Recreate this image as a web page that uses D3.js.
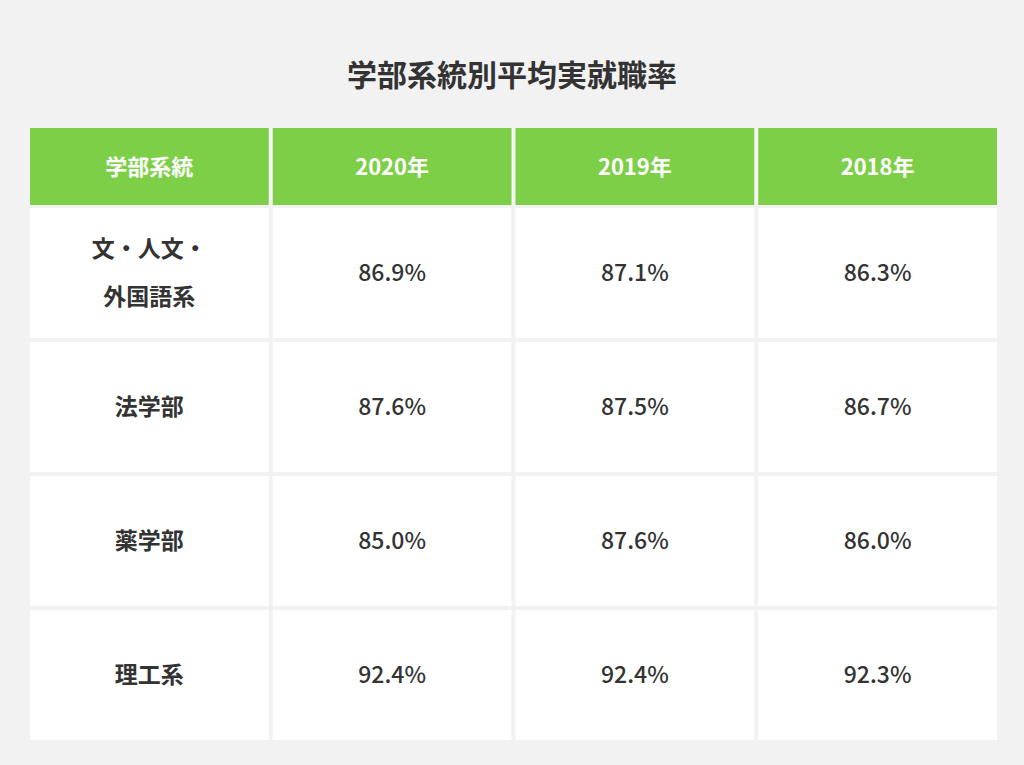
<!DOCTYPE html>
<html><head><meta charset="utf-8">
<script src="https://cdn.jsdelivr.net/npm/d3@7"></script>
<style>
  body { margin:0; background:#f2f2f2; }
  svg text { font-family:"Noto Sans CJK JP","Noto Sans",sans-serif; }
</style></head>
<body>
<svg id="chart" width="1024" height="765"></svg>
<script>
// ─── Data ───
const title   = "学部系統別平均実就職率";
const headers = ["学部系統", "2020年", "2019年", "2018年"];
const faculties = [["文・人文・", "外国語系"], ["法学部"], ["薬学部"], ["理工系"]];
const rates2020 = ["86.9%", "87.6%", "85.0%", "92.4%"];
const rates2019 = ["87.1%", "87.5%", "87.6%", "92.4%"];
const rates2018 = ["86.3%", "86.7%", "86.0%", "92.3%"];

const svg = d3.select("#chart");
const W = 1024;

svg.append("rect").attr("width", W).attr("height", 765).attr("fill", "#f2f2f2");

svg.append("text")
    .attr("x", W / 2).attr("y", 86)
    .attr("text-anchor", "middle")
    .attr("font-size", 30).attr("font-weight", 700).attr("fill", "#333")
    .text(title);

// Column and row bands
const x = d3.scaleBand().domain(d3.range(4)).range([30, 997]).paddingInner(0.0165);
const y = d3.scaleBand().domain(d3.range(4)).range([208, 740]).paddingInner(0.03);
const headTop = 128, headBottom = 205;

// Header
svg.append("rect").attr("x", 30).attr("y", headTop).attr("width", 967).attr("height", headBottom - headTop)
    .attr("fill", "#f4f4f4");
headers.forEach((h, i) => {
    svg.append("rect")
        .attr("x", x(i)).attr("y", headTop)
        .attr("width", x.bandwidth()).attr("height", headBottom - headTop)
        .attr("fill", "#7ecf48");
    svg.append("text")
        .attr("x", x(i) + x.bandwidth() / 2).attr("y", (headTop + headBottom) / 2 + 8)
        .attr("text-anchor", "middle")
        .attr("font-size", 22).attr("font-weight", 700).attr("fill", "#fff")
        .text(h);
});

// Body
const columns = [faculties, rates2020, rates2019, rates2018];
faculties.forEach((_, r) => {
    columns.forEach((col, c) => {
        const cx = x(c) + x.bandwidth() / 2;
        const cy = y(r) + y.bandwidth() / 2;
        svg.append("rect")
            .attr("x", x(c)).attr("y", y(r))
            .attr("width", x.bandwidth()).attr("height", y.bandwidth())
            .attr("fill", "#fff");
        const lines = Array.isArray(col[r]) ? col[r] : [col[r]];
        const lh = 48;
        lines.forEach((t, k) => {
            svg.append("text")
                .attr("x", cx)
                .attr("y", cy + 8 + (k - (lines.length - 1) / 2) * lh)
                .attr("text-anchor", "middle")
                .attr("font-size", 23).attr("font-weight", c === 0 ? 700 : 500)
                .attr("fill", "#333")
                .text(t);
        });
    });
});
</script>
</body></html>
